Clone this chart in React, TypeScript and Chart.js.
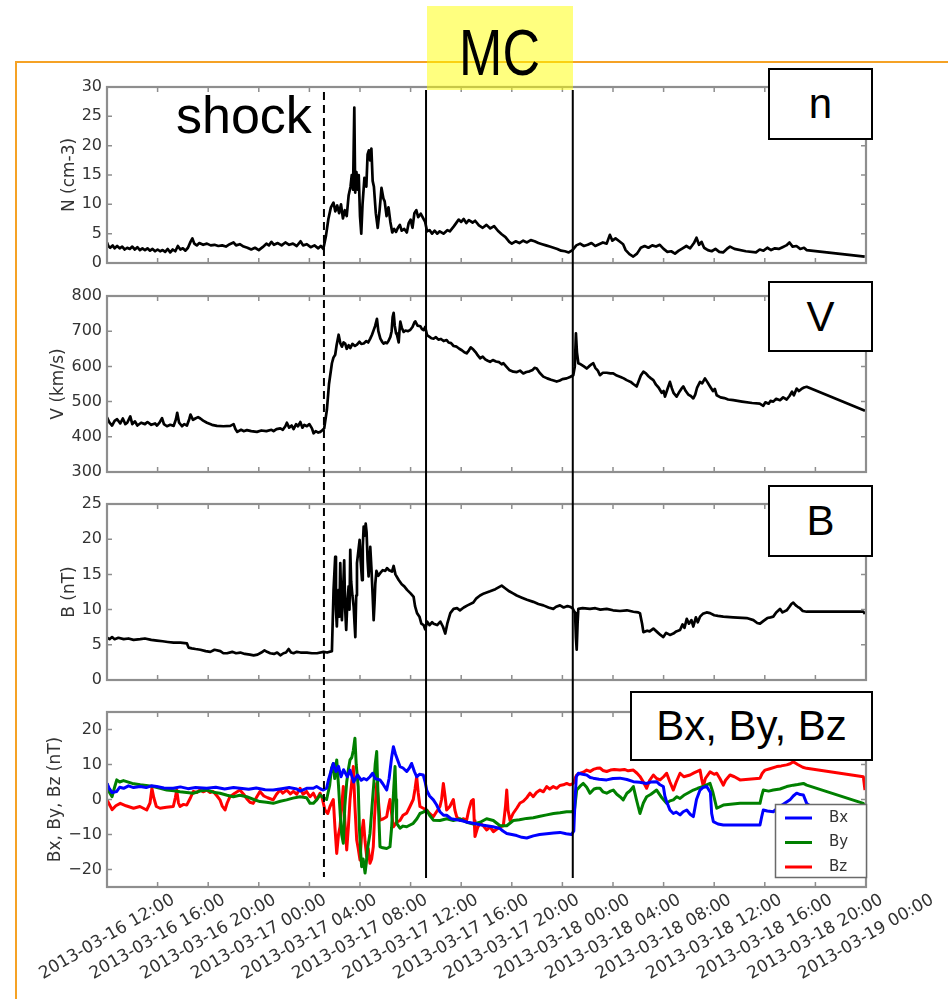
import React, { useEffect, useRef } from "react";
import { Chart, registerables } from "chart.js";

Chart.register(...registerables);

type Pt = [number, number];

// ---------- data (x = hours after 2013-03-16 12:00 UT) ----------
const xTickHours = [0, 4, 8, 12, 16, 20, 24, 28, 32, 36, 40, 44, 48, 52, 56, 60];
const nTicks = [0, 5, 10, 15, 20, 25, 30];
const vTicks = [300, 400, 500, 600, 700, 800];
const bTicks = [0, 5, 10, 15, 20, 25];
const bxyzTicks = [-20, -10, 0, 10, 20];

const shockHour = 17.15;
const mcStartHour = 25.22;
const mcEndHour = 36.82;

const nData: Pt[] = [[0,3.5],[0.1,2.9],[0.25,2.6],[0.45,3.0],[0.6,2.5],[0.8,2.9],[1.0,2.5],[1.2,2.8],[1.4,2.3],[1.6,2.6],[1.8,2.4],[2.0,2.8],[2.2,2.3],[2.4,2.7],[2.6,2.2],[2.8,2.5],[3.0,2.2],[3.2,2.5],[3.4,2.1],[3.6,2.4],[3.8,2.0],[4.0,2.3],[4.2,2.0],[4.4,2.2],[4.6,1.9],[4.8,2.4],[5.0,1.8],[5.2,2.3],[5.4,2.0],[5.6,2.9],[5.8,2.3],[6.0,2.5],[6.2,2.1],[6.4,2.6],[6.6,3.6],[6.75,4.2],[6.9,3.3],[7.1,3.0],[7.3,3.4],[7.6,3.1],[7.9,3.3],[8.2,3.0],[8.5,3.1],[8.8,2.9],[9.1,3.0],[9.4,2.8],[9.7,3.2],[10.0,3.5],[10.2,3.0],[10.5,3.2],[10.8,2.8],[11.1,2.6],[11.4,2.3],[11.7,2.6],[12.0,2.2],[12.3,2.7],[12.6,3.3],[12.8,3.0],[13.0,3.6],[13.2,3.1],[13.5,3.4],[13.8,3.0],[14.1,3.5],[14.4,3.1],[14.7,3.3],[15.0,2.9],[15.3,3.7],[15.5,3.0],[15.8,3.2],[16.1,2.7],[16.4,3.0],[16.7,2.5],[16.9,2.9],[17.1,2.4],[17.3,4.5],[17.5,7.5],[17.7,9.5],[17.9,10.3],[18.05,8.8],[18.2,9.8],[18.35,8.5],[18.5,10.0],[18.65,7.6],[18.8,9.0],[18.95,8.0],[19.1,11.5],[19.25,13.0],[19.35,15.0],[19.45,12.5],[19.55,26.5],[19.62,12.0],[19.72,15.5],[19.82,12.5],[19.9,15.0],[20.0,8.0],[20.1,5.0],[20.2,10.0],[20.35,14.5],[20.5,13.0],[20.6,18.5],[20.7,19.2],[20.8,17.5],[20.9,19.5],[21.0,14.0],[21.1,13.0],[21.25,8.5],[21.4,6.0],[21.55,9.0],[21.7,12.8],[21.85,11.0],[21.95,10.5],[22.1,8.0],[22.25,9.5],[22.4,7.0],[22.55,5.2],[22.7,5.8],[22.85,5.3],[23.0,6.0],[23.15,6.5],[23.3,5.5],[23.5,5.8],[23.7,5.2],[23.85,6.8],[24.0,7.4],[24.15,6.0],[24.3,8.5],[24.45,9.0],[24.6,7.8],[24.8,8.4],[25.0,7.6],[25.15,7.0],[25.3,5.4],[25.5,5.6],[25.7,5.0],[25.9,5.5],[26.1,5.0],[26.3,5.4],[26.6,5.0],[26.9,5.6],[27.1,5.4],[27.4,6.2],[27.6,6.8],[27.8,7.4],[28.0,7.0],[28.2,7.5],[28.4,6.8],[28.6,7.3],[28.9,6.9],[29.1,7.2],[29.4,6.4],[29.7,6.0],[30.0,6.5],[30.3,5.9],[30.6,6.3],[30.9,5.5],[31.2,4.9],[31.5,4.4],[31.8,3.6],[32.0,3.3],[32.3,3.7],[32.6,3.4],[32.9,3.8],[33.2,3.5],[33.5,3.9],[33.8,3.7],[34.1,3.4],[34.4,3.2],[34.7,3.0],[35.0,2.8],[35.3,2.6],[35.6,2.4],[35.9,2.1],[36.2,2.0],[36.5,1.8],[36.8,2.2],[37.1,3.0],[37.4,3.3],[37.7,2.9],[38.0,3.1],[38.3,3.4],[38.6,2.9],[38.9,3.2],[39.2,3.5],[39.5,3.3],[39.75,4.8],[39.95,3.8],[40.2,4.2],[40.5,3.7],[40.8,3.2],[41.0,2.2],[41.3,1.5],[41.6,1.1],[41.9,1.6],[42.2,2.6],[42.5,2.9],[42.8,2.6],[43.1,3.0],[43.4,2.8],[43.7,3.1],[44.0,2.4],[44.3,1.9],[44.6,2.0],[44.9,1.6],[45.2,2.1],[45.5,2.5],[45.8,2.9],[46.1,2.5],[46.4,3.4],[46.6,4.3],[46.8,3.1],[47.0,3.6],[47.2,2.6],[47.5,2.2],[47.8,2.0],[48.1,2.4],[48.4,1.9],[48.7,1.8],[49.0,2.4],[49.25,2.8],[49.6,2.4],[50.5,2.0],[51.3,1.8],[51.6,2.3],[51.9,2.1],[52.2,2.6],[52.5,2.2],[52.8,2.5],[53.1,2.4],[53.4,2.7],[53.7,3.0],[53.95,3.5],[54.2,2.8],[54.5,2.9],[54.8,2.4],[55.1,2.6],[55.3,2.2],[59.9,1.1]];

const vData: Pt[] = [[0,455],[0.2,440],[0.4,432],[0.6,445],[0.8,450],[1.05,438],[1.25,452],[1.45,436],[1.6,440],[1.84,458],[2.0,436],[2.2,444],[2.4,432],[2.7,440],[3.0,436],[3.2,442],[3.5,434],[3.8,438],[3.95,432],[4.15,440],[4.35,453],[4.5,436],[4.74,430],[5.0,434],[5.27,431],[5.45,450],[5.55,468],[5.7,440],[5.93,430],[6.1,436],[6.32,432],[6.5,450],[6.6,463],[6.8,448],[6.98,452],[7.2,456],[7.38,452],[7.6,446],[7.9,440],[8.3,434],[8.69,431],[9.2,430],[9.75,431],[10.01,436],[10.15,422],[10.3,414],[10.6,420],[10.8,416],[11.06,419],[11.4,416],[11.85,414],[12.2,418],[12.6,416],[13.0,420],[13.17,416],[13.4,422],[13.7,424],[13.9,420],[14.1,430],[14.22,440],[14.4,426],[14.6,432],[14.75,422],[14.95,436],[15.1,430],[15.28,442],[15.45,426],[15.6,434],[15.8,430],[16.0,436],[16.2,424],[16.33,410],[16.5,416],[16.7,412],[16.86,414],[17.0,418],[17.17,424],[17.38,476],[17.55,550],[17.78,609],[17.9,625],[18.04,633],[18.15,660],[18.31,690],[18.45,665],[18.57,656],[18.7,668],[18.83,665],[18.95,650],[19.1,660],[19.23,652],[19.4,664],[19.6,658],[19.76,662],[19.95,670],[20.1,664],[20.29,665],[20.5,672],[20.65,668],[20.81,679],[20.95,690],[21.08,703],[21.2,715],[21.34,735],[21.45,700],[21.61,679],[21.75,670],[21.87,665],[22.0,668],[22.13,666],[22.25,672],[22.4,684],[22.5,700],[22.58,740],[22.66,752],[22.75,715],[22.85,694],[22.92,690],[23.06,668],[23.12,700],[23.19,727],[23.3,710],[23.45,698],[23.6,702],[23.8,700],[23.98,704],[24.15,712],[24.3,725],[24.37,728],[24.55,716],[24.77,714],[24.9,706],[25.03,703],[25.15,712],[25.3,689],[25.5,684],[25.65,680],[25.82,679],[26.0,683],[26.2,676],[26.4,678],[26.61,672],[26.85,675],[27.0,668],[27.2,666],[27.4,658],[27.64,656],[27.85,650],[28.05,646],[28.25,640],[28.43,637],[28.6,645],[28.75,654],[28.96,648],[29.15,640],[29.3,632],[29.49,623],[29.7,628],[29.9,620],[30.1,616],[30.28,613],[30.5,618],[30.75,614],[31.0,612],[31.2,606],[31.33,609],[31.55,600],[31.8,590],[32.12,585],[32.4,584],[32.65,588],[32.91,580],[33.15,584],[33.4,586],[33.65,590],[33.8,596],[33.97,594],[34.2,582],[34.49,571],[34.8,566],[35.1,562],[35.3,560],[35.55,557],[35.8,560],[36.0,564],[36.34,566],[36.6,570],[36.86,575],[36.98,600],[37.07,694],[37.15,640],[37.26,609],[37.45,606],[37.7,600],[37.92,594],[38.1,600],[38.3,606],[38.44,609],[38.6,596],[38.8,588],[38.97,575],[39.2,582],[39.5,582],[39.8,580],[40.02,580],[40.3,574],[40.6,570],[40.85,566],[41.08,561],[41.4,556],[41.6,550],[41.87,543],[42.05,560],[42.2,574],[42.4,585],[42.6,580],[42.8,572],[43.0,566],[43.19,561],[43.4,548],[43.6,540],[43.85,525],[44.0,530],[44.11,514],[44.3,535],[44.5,556],[44.65,538],[44.8,524],[45.03,514],[45.2,525],[45.4,536],[45.56,543],[45.75,530],[45.95,520],[46.15,516],[46.35,509],[46.5,520],[46.65,540],[46.88,556],[47.05,552],[47.27,566],[47.45,556],[47.67,543],[47.9,530],[48.05,536],[48.2,518],[48.5,512],[48.8,510],[49.1,506],[49.51,504],[50.2,500],[51.0,496],[51.6,494],[51.88,488],[52.05,498],[52.3,494],[52.45,502],[52.67,500],[52.9,508],[53.2,504],[53.45,512],[53.73,506],[53.95,516],[54.15,528],[54.3,518],[54.52,537],[54.7,530],[54.9,536],[55.1,540],[55.31,542],[59.92,474]];

const bData: Pt[] = [[0,6.0],[0.2,5.8],[0.4,6.1],[0.6,5.8],[0.9,6.0],[1.32,5.8],[1.7,5.9],[2.1,5.7],[2.63,5.8],[3.0,5.9],[3.5,5.7],[3.95,5.6],[4.4,5.5],[4.8,5.4],[5.27,5.3],[5.8,5.3],[6.32,5.2],[6.45,4.6],[6.7,4.5],[7.0,4.4],[7.38,4.3],[7.8,4.1],[8.17,4.0],[8.5,4.3],[8.96,4.1],[9.2,3.8],[9.49,3.8],[9.9,4.0],[10.2,3.8],[10.54,3.9],[10.9,3.7],[11.3,3.6],[11.59,3.5],[11.9,3.6],[12.2,3.9],[12.45,4.2],[12.65,4.0],[12.9,3.8],[13.2,3.7],[13.45,3.9],[13.7,3.5],[13.95,3.8],[14.15,3.9],[14.36,4.4],[14.55,3.9],[14.75,3.8],[15.0,4.0],[15.3,3.9],[15.8,3.9],[16.2,3.8],[16.6,3.8],[17.12,4.0],[17.4,3.9],[17.78,4.1],[17.91,12.8],[18.04,17.5],[18.1,10.0],[18.17,7.6],[18.24,11.0],[18.31,12.8],[18.37,9.0],[18.44,16.6],[18.51,11.5],[18.57,8.5],[18.65,12.0],[18.75,17.0],[18.83,10.0],[18.91,7.1],[19.0,11.0],[19.1,13.3],[19.17,10.0],[19.23,18.5],[19.3,14.0],[19.4,12.0],[19.5,10.4],[19.57,8.0],[19.63,6.1],[19.7,12.0],[19.76,16.6],[19.85,18.0],[19.97,19.9],[20.05,17.0],[20.16,14.2],[20.22,19.0],[20.29,21.8],[20.38,20.5],[20.45,22.2],[20.52,21.0],[20.6,17.0],[20.68,14.7],[20.75,17.0],[20.81,18.9],[20.9,16.0],[21.0,12.0],[21.08,8.5],[21.15,11.0],[21.21,13.7],[21.3,15.5],[21.45,14.8],[21.61,15.2],[21.8,15.6],[22.0,15.5],[22.13,15.9],[22.3,15.6],[22.53,15.4],[22.66,16.2],[22.8,15.0],[23.06,14.2],[23.3,13.6],[23.5,13.3],[23.72,12.8],[24.0,12.3],[24.24,11.8],[24.35,10.5],[24.51,9.5],[24.7,9.0],[24.85,8.0],[25.03,7.8],[25.15,7.2],[25.3,8.3],[25.5,7.8],[25.7,8.2],[25.82,8.0],[26.1,7.8],[26.35,8.3],[26.55,7.6],[26.74,6.6],[26.9,8.0],[27.14,9.5],[27.4,10.1],[27.67,10.2],[27.9,9.9],[28.2,10.3],[28.5,10.6],[28.96,11.0],[29.2,11.6],[29.49,12.0],[29.8,12.3],[30.28,12.6],[30.7,12.9],[31.2,13.4],[31.5,13.0],[31.8,12.6],[32.1,12.3],[32.39,12.0],[32.8,11.7],[33.2,11.4],[33.7,11.1],[34.1,10.8],[34.5,10.6],[34.9,10.3],[35.28,10.1],[35.5,10.4],[35.81,10.6],[36.1,10.3],[36.4,10.5],[36.6,10.4],[36.8,10.2],[37.0,9.5],[37.07,6.0],[37.13,4.3],[37.2,8.0],[37.26,10.1],[37.6,10.2],[38.18,10.1],[38.6,10.2],[39.0,10.0],[39.5,10.1],[40.0,9.9],[40.55,9.8],[41.1,9.9],[41.61,9.7],[42.0,9.6],[42.13,9.5],[42.3,8.0],[42.4,6.8],[42.7,7.0],[42.9,6.9],[43.19,7.3],[43.5,6.8],[43.75,6.4],[43.98,6.1],[44.2,6.7],[44.5,6.4],[44.77,6.6],[45.0,6.9],[45.3,7.1],[45.5,7.9],[45.65,7.4],[45.83,8.7],[46.0,8.0],[46.2,8.5],[46.35,7.6],[46.55,8.9],[46.7,8.2],[46.88,9.0],[47.1,9.4],[47.4,9.6],[47.67,9.5],[48.0,9.2],[48.3,9.1],[48.72,9.0],[49.5,8.9],[50.57,8.8],[51.1,8.5],[51.4,8.1],[51.62,8.0],[51.9,8.4],[52.2,8.8],[52.45,8.9],[52.67,9.0],[52.9,9.6],[53.2,10.1],[53.4,9.6],[53.73,9.9],[53.95,10.4],[54.1,10.8],[54.25,11.0],[54.45,10.6],[54.6,10.4],[54.78,10.2],[55.0,9.8],[55.31,9.7],[59.79,9.7],[59.92,9.4]];

const bxData: Pt[] = [[0,4.6],[0.2,3.0],[0.4,2.0],[0.77,2.3],[1.0,3.5],[1.31,3.2],[1.7,3.9],[2.1,3.4],[2.63,3.7],[3.1,3.4],[3.5,3.9],[3.93,3.7],[4.5,3.3],[5.24,3.2],[5.8,3.6],[6.4,3.1],[7.0,3.4],[7.88,3.2],[8.6,3.5],[9.3,3.0],[10.0,3.4],[10.51,3.2],[11.2,2.9],[11.8,3.3],[12.5,2.8],[13.14,2.7],[13.8,3.1],[14.4,3.4],[15.0,3.0],[15.26,2.4],[15.78,3.2],[16.31,3.2],[16.57,3.7],[16.9,3.0],[17.1,2.7],[17.36,3.2],[17.5,5.5],[17.7,8.0],[17.89,10.3],[18.1,8.0],[18.3,9.5],[18.5,6.5],[18.7,8.5],[19.0,6.5],[19.21,8.4],[19.5,5.0],[19.8,7.0],[20.1,5.5],[20.3,6.0],[20.53,5.6],[20.79,6.5],[21.0,7.5],[21.2,6.0],[21.58,5.6],[21.8,4.5],[22.11,2.7],[22.3,6.0],[22.5,12.0],[22.64,15.1],[22.8,13.0],[23.0,11.0],[23.16,9.4],[23.4,9.0],[23.69,8.0],[23.9,9.0],[24.08,10.3],[24.3,8.0],[24.48,6.5],[24.7,7.2],[25.0,7.0],[25.15,5.0],[25.27,2.7],[25.5,1.0],[25.8,-0.1],[26.05,-1.5],[26.32,-3.5],[26.6,-4.5],[26.85,-4.5],[27.2,-5.5],[27.64,-5.8],[28.0,-6.0],[28.5,-6.5],[28.96,-6.8],[29.5,-7.2],[30.01,-7.5],[30.5,-7.8],[31.07,-8.3],[31.3,-9.0],[31.6,-9.7],[32.0,-10.0],[32.39,-10.3],[32.8,-10.8],[33.18,-11.0],[33.7,-10.4],[34.2,-10.0],[34.76,-9.8],[35.3,-9.6],[35.81,-9.4],[36.3,-9.8],[36.73,-10.0],[36.9,-9.0],[37.0,0.0],[37.1,6.5],[37.26,7.5],[37.6,7.2],[37.92,7.0],[38.2,6.3],[38.44,6.1],[38.9,5.8],[39.5,5.6],[40.0,6.0],[40.55,6.1],[41.1,5.7],[41.61,5.1],[42.1,4.9],[42.66,4.6],[43.0,5.0],[43.45,5.1],[43.72,4.2],[43.98,3.7],[44.1,1.0],[44.24,-0.6],[44.5,-3.0],[44.77,-4.0],[45.0,-3.6],[45.3,-4.4],[45.55,-3.5],[45.83,-3.0],[46.1,-4.2],[46.35,-4.9],[46.6,0.0],[46.88,2.7],[47.1,3.4],[47.41,3.7],[47.7,2.0],[47.8,-4.0],[47.93,-6.3],[48.3,-7.0],[48.72,-7.3],[50.04,-7.3],[51.62,-7.3],[51.75,-5.0],[51.88,-3.0],[52.2,-3.3],[52.67,-3.5],[53.0,-2.5],[53.4,-1.5],[53.99,-0.1],[54.25,1.0],[54.52,1.8],[54.8,1.4],[55.05,1.3],[55.31,-1.1],[55.84,-2.5],[59.79,-7.8],[59.92,-6.8]];

const byData: Pt[] = [[0,4.6],[0.2,2.0],[0.4,0.8],[0.6,3.5],[0.77,5.6],[1.0,5.0],[1.3,5.4],[1.56,5.1],[2.0,4.6],[2.63,4.2],[3.1,4.0],[3.66,3.7],[4.2,3.2],[4.72,2.7],[5.3,2.5],[5.77,2.2],[6.3,2.0],[6.82,1.8],[7.35,2.4],[7.88,2.7],[8.4,2.1],[8.93,1.8],[9.5,1.2],[9.99,0.8],[10.5,1.2],[11.04,0.8],[11.6,0.0],[12.09,-0.6],[12.6,-0.8],[13.14,-1.1],[13.7,-0.5],[14.2,-0.1],[14.7,0.4],[15.26,0.8],[15.78,0.5],[16.05,-1.1],[16.31,-1.1],[16.6,0.0],[16.84,1.3],[17.1,0.5],[17.36,0.0],[17.6,4.0],[17.75,9.0],[17.89,10.3],[18.0,6.0],[18.16,11.3],[18.3,4.0],[18.45,-5.0],[18.55,-10.0],[18.68,-12.5],[18.8,-2.0],[18.95,5.0],[19.1,9.0],[19.21,11.3],[19.35,12.0],[19.47,14.0],[19.6,17.5],[19.7,10.0],[19.8,6.0],[19.86,3.7],[19.95,-8.0],[20.05,-15.0],[20.13,-19.2],[20.25,-17.0],[20.4,-21.0],[20.5,-18.0],[20.6,-14.0],[20.79,-9.7],[20.95,-2.0],[21.1,5.0],[21.2,10.0],[21.32,13.7],[21.4,4.0],[21.5,-6.0],[21.58,-13.5],[21.8,-13.8],[22.11,-14.0],[22.37,-13.5],[22.5,-8.0],[22.65,2.0],[22.77,9.4],[22.85,0.0],[22.9,-6.8],[23.16,-8.2],[23.4,-7.6],[23.69,-7.8],[24.0,-7.2],[24.21,-6.8],[24.5,-5.5],[24.74,-4.0],[25.0,-3.6],[25.27,-3.0],[25.5,-4.5],[25.8,-5.9],[26.32,-6.0],[26.85,-5.5],[27.38,-6.0],[27.91,-5.5],[28.43,-6.5],[28.96,-7.0],[29.5,-6.5],[30.01,-5.5],[30.54,-6.0],[31.07,-7.5],[31.6,-7.5],[32.12,-6.0],[32.6,-5.8],[33.18,-5.4],[33.7,-5.2],[34.23,-4.8],[34.76,-4.4],[35.3,-4.0],[35.81,-3.8],[36.34,-3.5],[36.73,-3.5],[36.95,-3.2],[37.13,2.7],[37.4,3.8],[37.65,4.6],[37.92,3.5],[38.18,1.8],[38.5,3.0],[38.71,3.2],[38.97,3.2],[39.2,2.2],[39.5,1.8],[39.8,2.4],[40.02,2.7],[40.3,1.5],[40.55,0.8],[40.81,-0.1],[41.1,1.8],[41.35,2.5],[41.61,3.7],[41.85,0.0],[42.13,-4.0],[42.4,-1.0],[42.66,0.8],[43.0,1.5],[43.45,2.7],[43.8,0.8],[44.24,-1.1],[44.5,-0.4],[44.77,-0.1],[45.05,0.8],[45.3,0.3],[45.6,1.2],[46.0,2.0],[46.35,2.7],[46.7,3.2],[47.14,3.7],[47.4,4.2],[47.67,4.6],[47.9,2.0],[48.2,-2.5],[48.72,-1.6],[50.04,-1.1],[51.62,-1.1],[51.75,1.0],[51.88,2.7],[52.3,2.4],[52.67,2.7],[53.2,3.0],[53.73,3.7],[54.25,4.1],[54.6,4.3],[55.05,4.6],[55.31,4.1],[59.79,-1.1],[59.92,-4.9]];

const bzData: Pt[] = [[0,-0.1],[0.2,-1.5],[0.4,-2.9],[0.7,-1.8],[1.05,-1.1],[1.5,-1.8],[2.1,-2.5],[2.6,-2.0],[3.14,-3.0],[3.4,-1.0],[3.55,3.2],[3.7,0.5],[3.9,-2.0],[4.19,-2.5],[4.7,-2.2],[5.24,-2.0],[5.4,0.5],[5.51,2.7],[5.65,-1.0],[5.77,-2.0],[6.05,-1.4],[6.3,-1.6],[6.6,0.5],[6.82,2.3],[7.1,2.0],[7.35,2.7],[7.6,2.2],[7.88,2.7],[8.15,2.0],[8.4,2.3],[8.7,1.0],[8.93,-0.1],[9.1,-1.8],[9.33,-3.0],[9.5,-1.0],[9.72,0.8],[10.1,1.8],[10.51,2.7],[10.8,1.5],[11.1,0.0],[11.3,-0.8],[11.56,-1.1],[11.8,0.5],[12.09,2.3],[12.4,1.0],[12.7,0.5],[13.14,-0.1],[13.4,1.5],[13.68,2.7],[13.9,1.8],[14.2,2.7],[14.5,1.6],[14.73,2.3],[15.0,1.5],[15.26,3.2],[15.5,1.5],[15.78,2.3],[16.05,0.8],[16.31,1.8],[16.57,-0.1],[16.84,1.8],[17.0,0.5],[17.23,-3.0],[17.45,-4.0],[17.63,-2.0],[17.89,0.0],[18.02,-8.0],[18.16,-15.4],[18.3,-10.0],[18.42,-7.8],[18.55,-2.0],[18.68,3.7],[18.8,-6.0],[18.95,-14.4],[19.08,-8.0],[19.21,0.0],[19.35,5.0],[19.47,9.4],[19.6,-2.0],[19.74,-11.6],[19.86,-14.0],[20.0,-17.3],[20.13,-10.0],[20.27,-5.9],[20.4,-12.0],[20.53,-16.3],[20.65,-14.0],[20.79,-18.2],[20.92,-17.0],[21.05,-13.5],[21.15,-5.0],[21.32,4.6],[21.45,0.0],[21.58,-5.9],[21.85,-5.5],[22.11,-4.9],[22.25,-2.0],[22.37,0.0],[22.5,-4.0],[22.64,-7.8],[22.9,-6.5],[23.16,-6.0],[23.4,-4.5],[23.69,-3.9],[23.95,-2.0],[24.21,0.0],[24.35,3.0],[24.48,6.5],[24.6,2.0],[24.74,-2.0],[25.0,-2.5],[25.27,-3.0],[25.5,-4.0],[25.8,-4.9],[26.05,-3.5],[26.32,-2.0],[26.45,0.0],[26.59,4.6],[26.72,1.0],[26.85,-3.0],[27.1,-2.0],[27.38,0.0],[27.5,-3.0],[27.64,-4.9],[27.91,-6.0],[28.15,-5.5],[28.43,-5.9],[28.6,-3.0],[28.8,-0.5],[28.96,0.0],[29.03,-6.0],[29.09,-10.6],[29.3,-8.0],[29.49,-6.8],[29.75,-7.5],[30.02,-8.7],[30.28,-7.8],[30.54,-9.2],[30.8,-8.5],[31.07,-7.8],[31.33,-7.5],[31.5,-2.0],[31.6,2.7],[31.7,-3.0],[31.86,-6.0],[32.1,-4.0],[32.39,-2.5],[32.65,-1.0],[32.91,-0.5],[33.18,0.5],[33.44,1.8],[33.7,0.8],[33.95,2.0],[34.23,2.7],[34.5,2.2],[34.76,3.7],[35.0,3.0],[35.28,3.7],[35.55,3.2],[35.8,4.0],[36.08,4.2],[36.34,4.6],[36.6,4.2],[36.86,4.6],[37.0,6.0],[37.13,7.0],[37.4,7.5],[37.65,7.8],[37.92,8.4],[38.2,8.0],[38.44,8.6],[38.71,8.9],[38.97,9.0],[39.2,8.3],[39.5,8.0],[39.8,8.4],[40.1,8.6],[40.55,8.4],[40.9,8.6],[41.2,8.2],[41.61,8.4],[41.9,7.5],[42.13,6.6],[42.4,5.0],[42.66,3.2],[42.9,5.5],[43.19,7.0],[43.45,6.0],[43.72,5.6],[44.0,6.5],[44.24,7.5],[44.5,5.0],[44.77,2.7],[45.0,5.0],[45.3,7.5],[45.6,6.5],[46.09,7.0],[46.4,7.6],[46.88,8.4],[47.0,6.0],[47.14,3.7],[47.3,6.0],[47.67,7.9],[48.0,7.2],[48.2,7.5],[48.45,6.0],[48.72,4.1],[48.9,5.5],[49.25,7.0],[49.6,6.5],[50.04,5.6],[51.62,6.1],[51.8,7.5],[52.02,8.4],[52.4,8.8],[52.94,9.4],[53.3,9.6],[53.73,9.9],[54.0,10.2],[54.25,10.8],[54.6,10.0],[55.0,9.2],[55.31,8.9],[59.79,6.5],[59.92,2.7]];

// ---------- layout ----------
const W = 948;
const H = 999;
const PLOT_LEFT = 107;
const PLOT_RIGHT = 866;
const panelTops = [87, 296, 504, 712];
const panelBottoms = [263, 472, 680, 887];
const TEXT = "#333333";
const SPINE = "#8e8e8e";
const FAMILY = "'DejaVu Sans', sans-serif";
const TICK_FONT = { family: FAMILY, size: 16 };
const TITLE_FONT = { family: FAMILY, size: 17 };

interface Series { label: string; data: Pt[]; color: string; width: number }
interface Panel { title: string; min: number; max: number; ticks: number[]; padLeft: number; series: Series[] }

const panels: Panel[] = [
  { title: "N (cm-3)", min: 0, max: 30, ticks: nTicks, padLeft: 59, series: [{ label: "N", data: nData, color: "#000000", width: 2.7 }] },
  { title: "V (km/s)", min: 300, max: 800, ticks: vTicks, padLeft: 48, series: [{ label: "V", data: vData, color: "#000000", width: 2.7 }] },
  { title: "B (nT)", min: 0, max: 25, ticks: bTicks, padLeft: 59, series: [{ label: "B", data: bData, color: "#000000", width: 2.7 }] },
  {
    title: "Bx, By, Bz (nT)", min: -25, max: 25, ticks: bxyzTicks, padLeft: 45,
    series: [
      { label: "Bx", data: bxData, color: "#0000ff", width: 3 },
      { label: "By", data: byData, color: "#008000", width: 3 },
      { label: "Bz", data: bzData, color: "#ff0000", width: 3 },
    ],
  },
];

function timeLabel(h: number): string {
  const d = new Date(Date.UTC(2013, 2, 16, 12) + h * 3600000);
  const p = (v: number) => String(v).padStart(2, "0");
  return `${d.getUTCFullYear()}-${p(d.getUTCMonth() + 1)}-${p(d.getUTCDate())} ${p(d.getUTCHours())}:${p(d.getUTCMinutes())}`;
}

function numLabel(v: number): string {
  return v < 0 ? "\u2212" + Math.abs(v) : String(v);
}

const framePlugin = {
  id: "mplFrame",
  afterDraw(chart: any) {
    const { ctx, chartArea: a, scales } = chart;
    ctx.save();
    ctx.strokeStyle = SPINE;
    ctx.lineWidth = 1.5;
    const tl = 5;
    ctx.beginPath();
    for (const h of xTickHours) {
      const x = scales.x.getPixelForValue(h);
      ctx.moveTo(x, a.bottom);
      ctx.lineTo(x, a.bottom - tl);
      ctx.moveTo(x, a.top);
      ctx.lineTo(x, a.top + tl);
    }
    for (const t of scales.y.ticks) {
      const y = scales.y.getPixelForValue(t.value);
      ctx.moveTo(a.left, y);
      ctx.lineTo(a.left + tl, y);
      ctx.moveTo(a.right, y);
      ctx.lineTo(a.right - tl, y);
    }
    ctx.stroke();
    ctx.lineWidth = 2.2;
    ctx.strokeRect(a.left, a.top, a.right - a.left, a.bottom - a.top);
    ctx.restore();
  },
};

const overlayPlugin = {
  id: "overlay",
  afterDraw(chart: any) {
    const { ctx, chartArea: a, scales } = chart;
    const xs = scales.x;
    ctx.save();
    // legend
    const lgRight = a.right + 1;
    const lgBottom = a.bottom - 9;
    const lgW = 92;
    const lgH = 74;
    ctx.fillStyle = "#ffffff";
    ctx.fillRect(lgRight - lgW, lgBottom - lgH, lgW, lgH);
    ctx.strokeStyle = "#6a6a6a";
    ctx.lineWidth = 1.5;
    ctx.strokeRect(lgRight - lgW + 0.5, lgBottom - lgH + 0.5, lgW - 1, lgH - 1);
    chart.data.datasets.forEach((ds: any, i: number) => {
      const y = lgBottom - lgH + 14 + i * 24.5;
      ctx.strokeStyle = ds.borderColor;
      ctx.lineWidth = 3;
      ctx.beginPath();
      ctx.moveTo(lgRight - lgW + 10, y);
      ctx.lineTo(lgRight - lgW + 37, y);
      ctx.stroke();
      ctx.fillStyle = TEXT;
      ctx.font = `15px ${FAMILY}`;
      ctx.textAlign = "left";
      ctx.textBaseline = "middle";
      ctx.fillText(ds.label, lgRight - lgW + 54, y);
    });
    // x tick labels (rotated 30 degrees, centred on ticks)
    ctx.fillStyle = TEXT;
    ctx.font = `17px ${FAMILY}`;
    ctx.textAlign = "center";
    ctx.textBaseline = "middle";
    for (const h of xTickHours) {
      const x = xs.getPixelForValue(h);
      ctx.save();
      ctx.translate(x, a.bottom + 50);
      ctx.rotate(-Math.PI / 6);
      ctx.fillText(timeLabel(h), 0, 0);
      ctx.restore();
    }
    // event lines
    const top = 90;
    const bottom = a.bottom - 9;
    ctx.strokeStyle = "#000000";
    ctx.lineWidth = 2;
    ctx.setLineDash([8, 5]);
    ctx.beginPath();
    const xsh = xs.getPixelForValue(shockHour);
    ctx.moveTo(xsh, top + 2);
    ctx.lineTo(xsh, bottom - 1);
    ctx.stroke();
    ctx.setLineDash([]);
    ctx.beginPath();
    for (const h of [mcStartHour, mcEndHour]) {
      const x = xs.getPixelForValue(h);
      ctx.moveTo(x, top);
      ctx.lineTo(x, bottom);
    }
    ctx.stroke();
    ctx.restore();
  },
};

function PanelCanvas({ index }: { index: number }) {
  const ref = useRef<HTMLCanvasElement | null>(null);
  useEffect(() => {
    const p = panels[index];
    const isLast = index === panels.length - 1;
    const chart = new Chart(ref.current as HTMLCanvasElement, {
      type: "line",
      data: {
        datasets: p.series.map((s) => ({
          label: s.label,
          data: s.data.map(([x, y]) => ({ x, y })),
          borderColor: s.color,
          backgroundColor: s.color,
          borderWidth: s.width,
          pointRadius: 0,
          tension: 0,
          fill: false,
          borderJoinStyle: "round" as const,
        })),
      },
      options: {
        responsive: false,
        animation: false,
        devicePixelRatio: 1,
        events: [],
        layout: {
          padding: { left: p.padLeft, right: W - PLOT_RIGHT, top: panelTops[index], bottom: H - panelBottoms[index] },
        },
        plugins: { legend: { display: false }, tooltip: { enabled: false } },
        scales: {
          x: { type: "linear", display: false, min: 0, max: 60 },
          y: {
            type: "linear",
            min: p.min,
            max: p.max,
            afterBuildTicks: (s: any) => {
              s.ticks = p.ticks.map((v) => ({ value: v }));
            },
            afterFit: (s: any) => {
              s.width = PLOT_LEFT - p.padLeft;
            },
            grid: { display: false, drawTicks: false },
            border: { display: false },
            ticks: { padding: 5, color: TEXT, font: TICK_FONT, callback: (v: any) => numLabel(Number(v)) },
            title: { display: true, text: p.title, color: TEXT, font: TITLE_FONT, padding: 0 },
          },
        },
      } as any,
      plugins: isLast ? [framePlugin, overlayPlugin] : [framePlugin],
    });
    return () => chart.destroy();
  }, [index]);
  return (
    <canvas
      ref={ref}
      width={W}
      height={H}
      style={{ position: "absolute", left: 0, top: 0, width: W, height: H }}
    />
  );
}

const boxStyle = (left: number, top: number, width: number, height: number): React.CSSProperties => ({
  position: "absolute",
  left,
  top,
  width,
  height,
  boxSizing: "border-box",
  border: "2px solid #000",
  background: "#fff",
  display: "flex",
  alignItems: "center",
  justifyContent: "center",
  fontFamily: "'Liberation Sans', Arial, sans-serif",
  fontSize: 42,
  color: "#000",
});

export default function App() {
  return (
    <div style={{ position: "absolute", left: 0, top: 0, width: W, height: H, overflow: "hidden", background: "#fff" }}>
      <div
        style={{
          position: "absolute",
          left: 15,
          top: 61,
          width: 1000,
          height: 1000,
          borderTop: "2px solid #F5A225",
          borderLeft: "2px solid #F5A225",
        }}
      />
      {panels.map((_, i) => (
        <PanelCanvas key={i} index={i} />
      ))}
      <div style={{ position: "absolute", left: 427, top: 6, width: 146, height: 84, background: "rgba(255,255,0,0.5)" }} />
      <div
        style={{
          position: "absolute",
          left: 427,
          top: 20,
          width: 146,
          textAlign: "center",
          fontFamily: "'Liberation Sans', Arial, sans-serif",
          fontSize: 65,
          lineHeight: 1,
          color: "#000",
        }}
      >
        <span style={{ display: "inline-block", transform: "scaleX(0.8)" }}>MC</span>
      </div>
      <div
        style={{
          position: "absolute",
          left: 176,
          top: 89,
          fontFamily: "'Liberation Sans', Arial, sans-serif",
          fontSize: 52,
          lineHeight: 1,
          color: "#000",
        }}
      >
        shock
      </div>
      <div style={boxStyle(768, 68, 105, 72)}>n</div>
      <div style={boxStyle(768, 281, 105, 71)}>V</div>
      <div style={boxStyle(768, 485, 105, 72)}>B</div>
      <div style={boxStyle(630, 691, 243, 70)}>Bx, By, Bz</div>
    </div>
  );
}
